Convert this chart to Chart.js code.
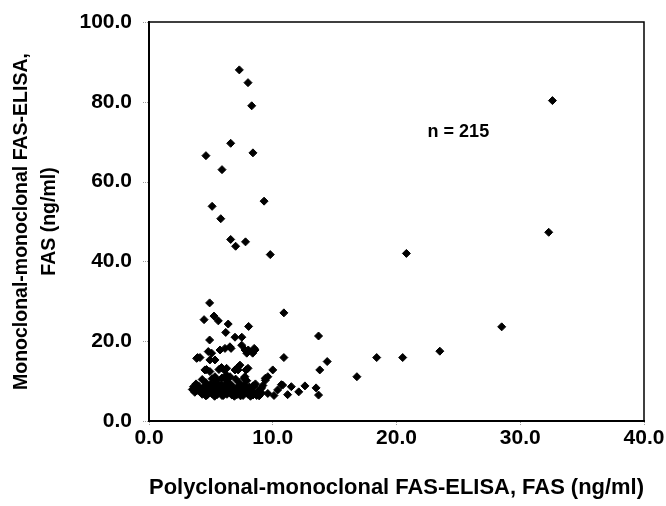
<!DOCTYPE html>
<html>
<head>
<meta charset="utf-8">
<script src="https://cdn.jsdelivr.net/npm/chart.js@4"></script>
<style>
  html, body { margin: 0; padding: 0; background: #fff; }
  #wrap { width: 666px; height: 506px; }
</style>
</head>
<body>
<div id="wrap"><canvas id="chart" width="666" height="506"></canvas></div>
<script>
// polyclonal (x) and monoclonal (y) FAS, ng/ml
const highX = [7.3, 8.0, 8.3, 6.6, 4.6, 8.4, 5.9, 9.3, 5.1, 5.8, 6.6, 7.0, 7.8, 9.8];
const highY = [88.0, 84.8, 79.0, 69.6, 66.5, 67.2, 63.0, 55.1, 53.8, 50.7, 45.5, 43.8, 44.9, 41.7];

const farX = [32.6, 32.3, 20.8, 28.5, 23.5, 18.4, 20.5, 16.8];
const farY = [80.3, 47.3, 42.0, 23.6, 17.5, 15.9, 15.9, 11.1];

const midX = [10.9, 13.7, 14.4, 13.8, 10.9, 13.5, 13.7, 12.6, 12.1, 11.5, 11.2, 10.8, 10.0, 10.1, 10.4, 9.1, 9.4, 9.6, 9.4, 8.0, 8.4, 10.7];
const midY = [27.1, 21.3, 14.9, 12.8, 15.9, 8.3, 6.5, 8.8, 7.3, 8.6, 6.6, 9.0, 12.8, 6.4, 7.8, 8.3, 10.7, 11.1, 10.2, 13.2, 8.8, 9.1];

const upperX = [4.9, 4.45, 5.25, 5.6, 6.4, 8.05, 6.2, 4.9, 6.95, 7.5, 5.74, 6.14, 6.63, 4.79, 5.06, 7.49, 7.76, 8.02, 8.38, 8.57, 3.93, 4.12,
  4.92, 4.65, 4.92, 5.65, 5.86, 6.08, 6.27, 6.95, 7.17, 7.35, 7.84, 7.68, 5.33, 6.55, 8.5, 3.85, 5.33, 6.54, 7.9, 4.52, 6.27, 7.2, 7.75];
const upperY = [29.6, 25.4, 26.3, 25.1, 24.3, 23.7, 22.2, 20.3, 21.0, 21.0, 17.8, 18.2, 18.2, 17.4, 17.0, 19.0, 17.8, 17.8, 17.0, 17.8, 15.9, 15.9,
  15.3, 12.9, 12.4, 12.9, 13.4, 12.8, 13.2, 12.8, 13.4, 14.0, 12.8, 10.7, 11.1, 11.1, 18.2, 15.7, 15.3, 18.6, 17.0, 12.8, 11.5, 12.8, 11.1];

const bandX = [
  4.3, 5.1, 5.5, 5.9, 6.3, 7.0, 7.9,
  3.8, 4.6, 5.0, 5.4, 5.8, 6.2, 6.6, 7.3, 7.7, 8.6, 9.2,
  3.6, 4.0, 4.4, 4.8, 5.2, 5.6, 6.0, 6.4, 6.8, 7.2, 7.6, 8.1, 8.5, 9.0,
  3.5, 3.9, 4.3, 4.7, 5.1, 5.5, 5.9, 6.3, 6.7, 7.1, 7.5, 7.9, 8.3, 8.8,
  3.7, 4.1, 4.5, 4.9, 5.3, 5.7, 6.1, 6.5, 6.9, 7.3, 7.7, 8.2, 8.6, 9.1, 9.6,
  4.3, 4.7, 5.1, 5.5, 5.9, 6.3, 6.7, 7.1, 7.6, 8.0, 8.4, 8.9,
  4.6, 5.3, 6.0, 6.9, 7.4, 8.2, 8.7
];
const bandY = [
  10.4, 10.6, 10.2, 10.8, 10.3, 10.5, 10.1,
  9.3, 9.6, 9.2, 9.5, 9.1, 9.4, 9.2, 9.6, 9.0, 9.3, 8.9,
  8.6, 8.8, 8.4, 8.7, 8.5, 8.9, 8.3, 8.6, 8.4, 8.7, 8.2, 8.5, 8.8, 8.0,
  7.9, 7.7, 8.0, 7.8, 7.6, 8.1, 7.7, 7.9, 7.6, 8.0, 7.8, 7.5, 7.7, 7.4,
  7.2, 7.4, 7.0, 7.3, 7.1, 7.4, 7.0, 7.2, 7.3, 6.9, 7.1, 7.2, 6.8, 7.0, 6.9,
  6.7, 6.5, 6.8, 6.6, 6.4, 6.7, 6.5, 6.6, 6.4, 6.7, 6.5, 6.3,
  6.3, 6.2, 6.4, 6.2, 6.3, 6.2, 6.4
];

const xTicks = [0, 10, 20, 30, 40];
const yTicks = [0, 20, 40, 60, 80, 100];
const xTitle = 'Polyclonal-monoclonal FAS-ELISA, FAS (ng/ml)';
const yTitle = ['Monoclonal-monoclonal FAS-ELISA,', 'FAS (ng/ml)'];
const note = 'n = 215';
const notePos = [25.0, 72.4];

const allX = [].concat(highX, farX, midX, upperX, bandX);
const allY = [].concat(highY, farY, midY, upperY, bandY);
const points = allX.map((x, i) => ({ x: x, y: allY[i] }));

const FONT = 'Liberation Sans, Arial, sans-serif';

// frame on top and right, small y ticks, and the "n = 215" label
const extras = {
  id: 'extras',
  afterDraw(chart) {
    const ctx = chart.ctx;
    const a = chart.chartArea;
    const ys = chart.scales.y;
    ctx.save();
    ctx.strokeStyle = '#000';
    ctx.lineWidth = 1.5;
    ctx.beginPath();
    ctx.moveTo(a.left, a.top);
    ctx.lineTo(a.right, a.top);
    ctx.lineTo(a.right, a.bottom);
    ctx.stroke();

    ctx.strokeStyle = '#999';
    ctx.lineWidth = 1;
    ctx.setLineDash([1, 1]);
    yTicks.forEach(v => {
      const y = Math.round(ys.getPixelForValue(v)) + 0.5;
      ctx.beginPath();
      ctx.moveTo(a.left - 6, y);
      ctx.lineTo(a.left - 1, y);
      ctx.stroke();
    });
    ctx.setLineDash([]);

    ctx.fillStyle = '#000';
    ctx.font = 'bold 18px ' + FONT;
    ctx.textAlign = 'center';
    ctx.textBaseline = 'middle';
    ctx.fillText(note, chart.scales.x.getPixelForValue(notePos[0]), ys.getPixelForValue(notePos[1]));
    ctx.restore();
  }
};

new Chart(document.getElementById('chart'), {
  type: 'scatter',
  data: {
    datasets: [{
      data: points,
      pointStyle: 'rectRot',
      pointRadius: 4,
      pointBorderWidth: 1,
      backgroundColor: '#000',
      borderColor: '#000'
    }]
  },
  options: {
    responsive: false,
    animation: false,
    plugins: { legend: { display: false }, tooltip: { enabled: false } },
    layout: { padding: { top: 22, right: 22, left: 0, bottom: 0 } },
    scales: {
      x: {
        type: 'linear', min: 0, max: 40,
        afterBuildTicks: s => { s.ticks = xTicks.map(v => ({ value: v })); },
        afterFit: s => { s.height = 85; },
        ticks: {
          color: '#000', padding: 0,
          font: { family: FONT, size: 21, weight: 'bold' },
          callback: v => v.toFixed(1)
        },
        grid: { drawOnChartArea: false, tickLength: 5, color: '#999', tickBorderDash: [1, 1] },
        border: { color: '#000', width: 2 },
        title: {
          display: true, text: xTitle, color: '#000',
          font: { family: FONT, size: 22.5, weight: 'bold' },
          padding: { top: 0, bottom: 5 }
        }
      },
      y: {
        type: 'linear', min: 0, max: 100,
        afterBuildTicks: s => { s.ticks = yTicks.map(v => ({ value: v })); },
        afterFit: s => { s.width = 149; },
        ticks: {
          color: '#000', padding: 0,
          font: { family: FONT, size: 21, weight: 'bold' },
          callback: v => v.toFixed(1)
        },
        grid: { drawOnChartArea: false, tickLength: 17, tickColor: 'rgba(0,0,0,0)' },
        border: { color: '#000', width: 2 },
        title: {
          display: true, text: yTitle, color: '#000',
          font: { family: FONT, size: 19.5, weight: 'bold', lineHeight: 1.44 },
          padding: { top: 8, bottom: 0 }
        }
      }
    }
  },
  plugins: [extras]
});
</script>
</body>
</html>
